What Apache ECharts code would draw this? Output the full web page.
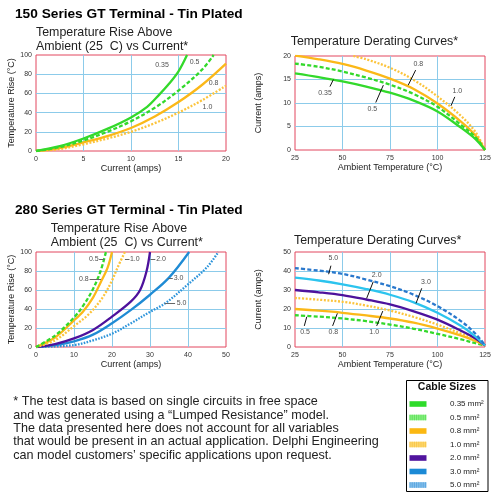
<!DOCTYPE html>
<html><head><meta charset="utf-8">
<script src="https://cdn.jsdelivr.net/npm/echarts@6/dist/echarts.min.js"></script>
<style>html,body{margin:0;padding:0;background:#fff}#c{width:495px;height:497px}</style>
</head><body><div id="c"></div>
<script>
// ---------- DATA ----------
const cableSizes = ['0.35', '0.5', '0.8', '1.0', '2.0', '3.0', '5.0'];

// 150 Series: temperature rise (°C) vs current (A)
const rise150_035 = [[0,0],[2.5,5],[5,13],[7.5,23],[10,35],[11.7,46],[13,59],[14,70],[15,83],[15.9,100]];
const rise150_05  = [[0,0],[2.5,4],[5,11],[7.5,20],[10,31],[12.5,45],[15,63],[17.5,85],[18.7,100]];
const rise150_08  = [[0,0],[2.5,3],[5,9],[7.5,15.5],[10,24],[12.5,36],[15,51],[17.5,69],[20,91]];
const rise150_10  = [[0,0],[2.5,2],[5,7],[7.5,13],[10,20],[12.5,29],[15,40],[17.5,53],[20,68]];

// 150 Series: derating current (A) vs ambient temperature (°C)
const derate150_035 = [[25,16.3],[37.5,15.5],[50,14.6],[62.5,13.5],[75,12.2],[87.5,10.5],[100,8.2],[112.5,4.7],[120,2.3],[125,0]];
const derate150_05  = [[25,18.4],[37.5,17.7],[50,16.7],[62.5,15.4],[75,13.9],[87.5,11.9],[100,9.2],[112.5,5.3],[120,2.7],[125,0]];
const derate150_08  = [[25,20.1],[37.5,19.3],[50,18.3],[62.5,16.9],[75,15.2],[87.5,13],[100,9.9],[112.5,6],[120,3.1],[125,0]];
const derate150_10  = [[55.7,20],[62.5,19.3],[75,17.5],[87.5,14.9],[100,11.4],[112.5,7.2],[120,3.8],[125,0]];

// 280 Series: temperature rise (°C) vs current (A)
const rise280_05 = [[0,0],[5,12],[10,31],[12.5,44],[15,61],[17,80],[18.4,100]];
const rise280_08 = [[0,0],[5,10],[10,28],[12.5,38],[15,52],[17,68],[18.8,83],[20,100]];
const rise280_10 = [[0,0],[5,7],[10,22],[14,35],[17.5,52],[20,70],[21.5,84],[23.4,100]];
const rise280_20 = [[0,0],[5,3],[10,9],[15,18],[20,32],[25,48],[27.4,60],[29.1,80],[30,100]];
const rise280_30 = [[0,0],[5,2],[10,6],[15,13],[20,25],[25,39],[30,55],[35,73],[40.3,100]];
const rise280_50 = [[0,0],[10,2],[15,7],[20,14],[25,25],[30,37],[34,46],[40,66],[45,84],[48,100]];

// 280 Series: derating current (A) vs ambient temperature (°C)
const derate280_05 = [[25,16.7],[37.5,16],[50,15],[62.5,13.6],[75,11.8],[87.5,9.6],[100,6.9],[112.5,4],[120,2],[125,0.8]];
const derate280_08 = [[25,20],[37.5,19.1],[50,18],[62.5,16.6],[75,15],[87.5,12.8],[100,9.7],[112.5,6],[120,3.2],[125,0.8]];
const derate280_10 = [[25,25.8],[37.5,24.9],[50,23.8],[62.5,21.8],[75,19.2],[87.5,15.8],[100,11.8],[112.5,7],[120,3.8],[125,0.8]];
const derate280_20 = [[25,30],[37.5,28.8],[50,27.3],[62.5,25],[75,22.4],[87.5,18.8],[100,14.4],[112.5,8.5],[120,4.5],[125,0.8]];
const derate280_30 = [[25,36.5],[37.5,35],[50,33],[62.5,30.5],[75,27.5],[87.5,23.5],[100,18],[112.5,11],[120,5.5],[125,0.8]];
const derate280_50 = [[25,41.5],[37.5,40.2],[50,38.5],[62.5,35.5],[75,32],[87.5,27.5],[100,21.5],[112.5,13.5],[120,7],[125,0.8]];

// ---------- STYLE ----------
const FONT = '"Liberation Sans", Arial, Helvetica, sans-serif';
const C = {
  green: '#33d92b', yellow: '#fbb818', yellowL: '#fcc43c',
  purple: '#4d129c', blue: '#1f8bd4', blueDot: '#2b93da',
  cyan: '#2cc4ee', blueDash: '#2a78cc'
};
const DASH = [4, 2.2], DOT = [2, 1.6], FINE = [1.6, 1.4];

const chart = echarts.init(document.getElementById('c'), null, {renderer: 'canvas'});

const grids = [
  {left: 36, top: 55, width: 190, height: 96},
  {left: 295, top: 56, width: 190, height: 94},
  {left: 36, top: 252, width: 190, height: 95},
  {left: 295, top: 252, width: 190, height: 95}
].map(g => Object.assign(g, {show: true, borderColor: '#e2475f', borderWidth: 1, backgroundColor: '#fff'}));

function axisCommon() {
  return {
    axisLine: {show: false}, axisTick: {show: false},
    axisLabel: {fontSize: 7, color: '#333', fontFamily: FONT},
    splitLine: {show: true, showMinLine: false, showMaxLine: false, lineStyle: {color: '#8ccbea', width: 1}},
    nameLocation: 'middle', nameTextStyle: {fontSize: 9, color: '#222', fontFamily: FONT}
  };
}
function xAx(gi, min, max, interval, name, gap) {
  const a = axisCommon();
  a.axisLabel.margin = 5;
  return Object.assign(a, {type: 'value', gridIndex: gi, min, max, interval, name, nameGap: gap});
}
function yAx(gi, min, max, interval, name, gap) {
  const a = axisCommon();
  a.axisLabel.margin = 4;
  return Object.assign(a, {type: 'value', gridIndex: gi, min, max, interval, name, nameGap: gap});
}

function line(data, gi, color, dash, width) {
  return {type: 'line', xAxisIndex: gi, yAxisIndex: gi, data, smooth: 0.35, symbol: 'none',
    clip: true, silent: true, animation: false,
    lineStyle: {color, width: width || 2.3, type: dash || 'solid', cap: 'butt'}};
}
function annot(gi, items, leaders, leaderColor) {
  return {type: 'scatter', xAxisIndex: gi, yAxisIndex: gi, symbolSize: 1, silent: true, animation: false,
    itemStyle: {color: 'rgba(0,0,0,0)'}, z: 5,
    label: {show: true, position: 'inside', formatter: '{b}', fontSize: 7, color: '#222', fontFamily: FONT},
    data: items.map(d => ({name: d[0], value: [d[1], d[2]]})),
    markLine: {silent: true, symbol: 'none', animation: false, label: {show: false},
      lineStyle: {color: leaderColor || '#111', width: 1, type: 'solid'},
      data: leaders.map(l => [{coord: l[0]}, {coord: l[1]}])}};
}

const series = [
  // chart 1
  line(rise150_10, 0, C.yellowL, DOT), line(rise150_08, 0, C.yellow),
  line(rise150_05, 0, C.green, DASH), line(rise150_035, 0, C.green),
  annot(0, [['0.35', 13.26, 89.6], ['0.5', 16.7, 92.2], ['0.8', 18.7, 70.8], ['1.0', 18.05, 45.3]], []),
  // chart 2
  line(derate150_10, 1, C.yellowL, DOT), line(derate150_08, 1, C.yellow),
  line(derate150_05, 1, C.green, DASH), line(derate150_035, 1, C.green),
  annot(1, [['0.35', 40.8, 12.2], ['0.5', 65.7, 8.66], ['0.8', 89.9, 18.2], ['1.0', 110.4, 12.6]],
    [[[43.4, 13.5], [45.2, 15.0]], [[67.5, 10.1], [71.5, 13.8]], [[88.5, 17.0], [84.6, 13.8]], [[109.1, 11.3], [107.1, 9.4]]]),
  // chart 3
  line(rise280_50, 2, C.blueDot, FINE), line(rise280_30, 2, C.blue), line(rise280_20, 2, C.purple),
  line(rise280_10, 2, C.yellowL, DOT), line(rise280_08, 2, C.yellow), line(rise280_05, 2, C.green, DASH),
  annot(2, [['0.5', 15.2, 92.6], ['0.8', 12.6, 71.3], ['1.0', 26.0, 92.6], ['2.0', 32.9, 92.6], ['3.0', 37.5, 72.6], ['5.0', 38.3, 46.3]],
    [[[16.6, 92.6], [18.0, 92.6]], [[14.1, 71.3], [17.1, 71.3]], [[23.4, 92.6], [24.6, 92.6]],
     [[30.1, 92.6], [31.4, 92.6]], [[34.8, 72.6], [36.0, 72.6]], [[33.9, 46.3], [36.6, 46.3]]], '#666'),
  // chart 4
  line(derate280_05, 3, C.green, DASH), line(derate280_08, 3, C.yellow), line(derate280_10, 3, C.yellowL, DOT),
  line(derate280_20, 3, C.purple), line(derate280_30, 3, C.cyan), line(derate280_50, 3, C.blueDash, DASH),
  annot(3, [['5.0', 45.2, 46.7], ['2.0', 68, 37.9], ['3.0', 93.9, 34.1], ['0.5', 30.3, 7.7], ['0.8', 45.2, 7.7], ['1.0', 66.7, 7.7]],
    [[[43.9, 42.8], [42.7, 38.3]], [[66.2, 34.4], [62.7, 25.6]], [[91.7, 30.9], [88.7, 23]],
     [[29.9, 11.1], [31.2, 15.9]], [[44.8, 11.1], [47.3, 17.7]], [[68, 11.1], [71.2, 18.9]]])
];

// ---------- TEXT & LEGEND ----------
function txt(text, x, y, size, opts) {
  return {type: 'text', z: 10, silent: true, style: Object.assign({text, x, y, fontSize: size, fontFamily: FONT,
    fill: '#111', align: 'left', verticalAlign: 'middle'}, opts || {})};
}
const legendColors = ['#2edb2a', '#8cee86', '#fbb812', '#fcd970', '#50149e', '#1b8ad6', '#86c0ea'];
const legendStripe = [null, '#5fe35a', null, '#f9c64a', null, null, '#5aa6e0'];
const legendEls = [
  {type: 'rect', z: 10, silent: true, shape: {x: 406.5, y: 380.5, width: 81.5, height: 111}, style: {fill: '#fff', stroke: '#000', lineWidth: 1}},
  txt('Cable Sizes', 447, 387, 10.5, {align: 'center', fontWeight: 'bold'})
];
cableSizes.forEach((s, i) => {
  const cy = 404 + i * 13.5;
  legendEls.push({type: 'rect', z: 11, silent: true, shape: {x: 409.5, y: cy - 2.8, width: 17, height: 5.6}, style: {fill: legendColors[i]}});
  if (legendStripe[i]) legendEls.push({type: 'line', z: 12, silent: true, shape: {x1: 409.5, y1: cy, x2: 426.5, y2: cy},
    style: {stroke: legendStripe[i], lineWidth: 5.6, lineDash: [1, 1.2]}});
  legendEls.push(txt(s + ' mm\u00b2', 450, cy, 8, {fill: '#222'}));
});

const footnote = ['* The test data is based on single circuits in free space',
  'and was generated using a \u201cLumped Resistance\u201d model.',
  'The data presented here does not account for all variables',
  'that would be present in an actual application. Delphi Engineering',
  'can model customers\u2019 specific applications upon request.'];

const graphic = [
  txt('150 Series GT Terminal - Tin Plated', 15, 13.8, 13.7, {fontWeight: 'bold', fill: '#000'}),
  txt('Temperature Rise Above', 36, 32.8, 12.4, {fill: '#222'}),
  txt('Ambient (25  C) vs Current*', 36, 46.3, 12.4, {fill: '#222'}),
  txt('Temperature Derating Curves*', 290.7, 41.3, 12.4, {fill: '#222'}),
  txt('280 Series GT Terminal - Tin Plated', 15, 210, 13.7, {fontWeight: 'bold', fill: '#000'}),
  txt('Temperature Rise Above', 50.7, 228.8, 12.4, {fill: '#222'}),
  txt('Ambient (25  C) vs Current*', 50.7, 242.3, 12.4, {fill: '#222'}),
  txt('Temperature Derating Curves*', 294, 240.3, 12.4, {fill: '#222'}),
  txt(footnote.join('\n'), 13.3, 395, 12.6, {verticalAlign: 'top', lineHeight: 13.4, fill: '#222'})
].concat(legendEls);

chart.setOption({
  animation: false,
  backgroundColor: '#fff',
  grid: grids,
  xAxis: [
    xAx(0, 0, 20, 5, 'Current (amps)', 12.5),
    xAx(1, 25, 125, 25, 'Ambient Temperature (\u00b0C)', 13.5),
    xAx(2, 0, 50, 10, 'Current (amps)', 13.5),
    xAx(3, 25, 125, 25, 'Ambient Temperature (\u00b0C)', 10.5)
  ],
  yAxis: [
    yAx(0, 0, 100, 20, 'Temperature Rise (\u00b0C)', 19.5),
    yAx(1, 0, 20, 5, 'Current (amps)', 31.5),
    yAx(2, 0, 100, 20, 'Temperature Rise (\u00b0C)', 19.5),
    yAx(3, 0, 50, 10, 'Current (amps)', 31.5)
  ],
  series,
  graphic
});
</script></body></html>
